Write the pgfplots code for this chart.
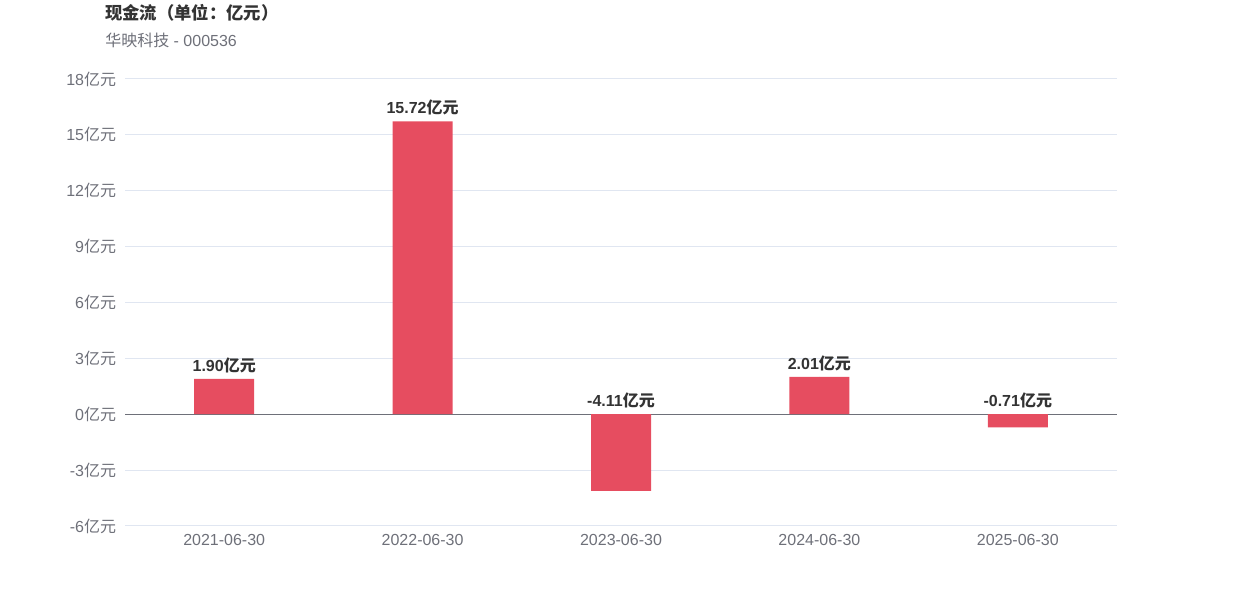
\documentclass[border=0pt]{standalone}
\usepackage{pgfplots}
\pgfplotsset{compat=1.18}
\usepackage{fontspec}
\setmainfont{Liberation Sans}
\newfontfamily\cjk{Noto Sans CJK SC}
\definecolor{barred}{HTML}{E64D60}
\definecolor{axgray}{HTML}{6E7079}
\definecolor{gridc}{HTML}{E0E6F1}
\definecolor{titlec}{HTML}{333333}
\newcommand{\yy}{{\cjk 亿元}}
\begin{document}
\begin{tikzpicture}
\path[use as bounding box] (0pt,0pt) rectangle (931.5pt,447pt);
\node[anchor=west, font=\fontsize{13}{15}\selectfont\bfseries\cjk, text=titlec, inner sep=0] at (78.75pt,437.25pt) {现金流（单位：亿元）};
\node[anchor=west, font=\fontsize{12}{14}\selectfont, text=axgray, inner sep=0] at (78.75pt,417pt) {{\cjk 华映科技} - 000536};
\begin{axis}[at={(93.75pt,52.5pt)}, anchor=south west, scale only axis,
  width=744pt, height=335.25pt,
  xmin=-0.5, xmax=4.5, ymin=-6, ymax=18,
  ytick={-6,-3,0,3,6,9,12,15,18},
  yticklabels={-6\yy,-3\yy,0\yy,3\yy,6\yy,9\yy,12\yy,15\yy,18\yy},
  xtick={0,1,2,3,4},
  xticklabels={2021-06-30,2022-06-30,2023-06-30,2024-06-30,2025-06-30},
  axis line style={draw=none},
  major tick length=0pt,
  ymajorgrids, grid style={gridc, line width=0.75pt},
  extra y ticks={0}, extra y tick labels={},
  extra y tick style={grid style={axgray, line width=0.9pt}},
  tick label style={font=\fontsize{12}{14}\selectfont, text=axgray},
  y tick label style={anchor=east, inner sep=0pt, xshift=-6.5pt},
  x tick label style={anchor=north, inner sep=0pt, yshift=-6pt},
  clip=false,
]
\addplot[ybar, bar width=45pt, fill=barred, draw=none]
  coordinates {(0,1.90) (1,15.72) (2,-4.11) (3,2.01) (4,-0.71)};
\addplot[only marks, mark=*, mark size=0pt, mark options={draw=none, fill=none},
  nodes near coords, point meta=explicit symbolic,
  every node near coord/.style={font=\fontsize{12}{14}\selectfont\bfseries, text=titlec, anchor=south, inner sep=0pt, yshift=4.5pt}]
  coordinates {(0,1.90) [1.90\yy] (1,15.72) [15.72\yy] (2,0) [-4.11\yy] (3,2.01) [2.01\yy] (4,0) [-0.71\yy]};
\end{axis}
\end{tikzpicture}
\end{document}
